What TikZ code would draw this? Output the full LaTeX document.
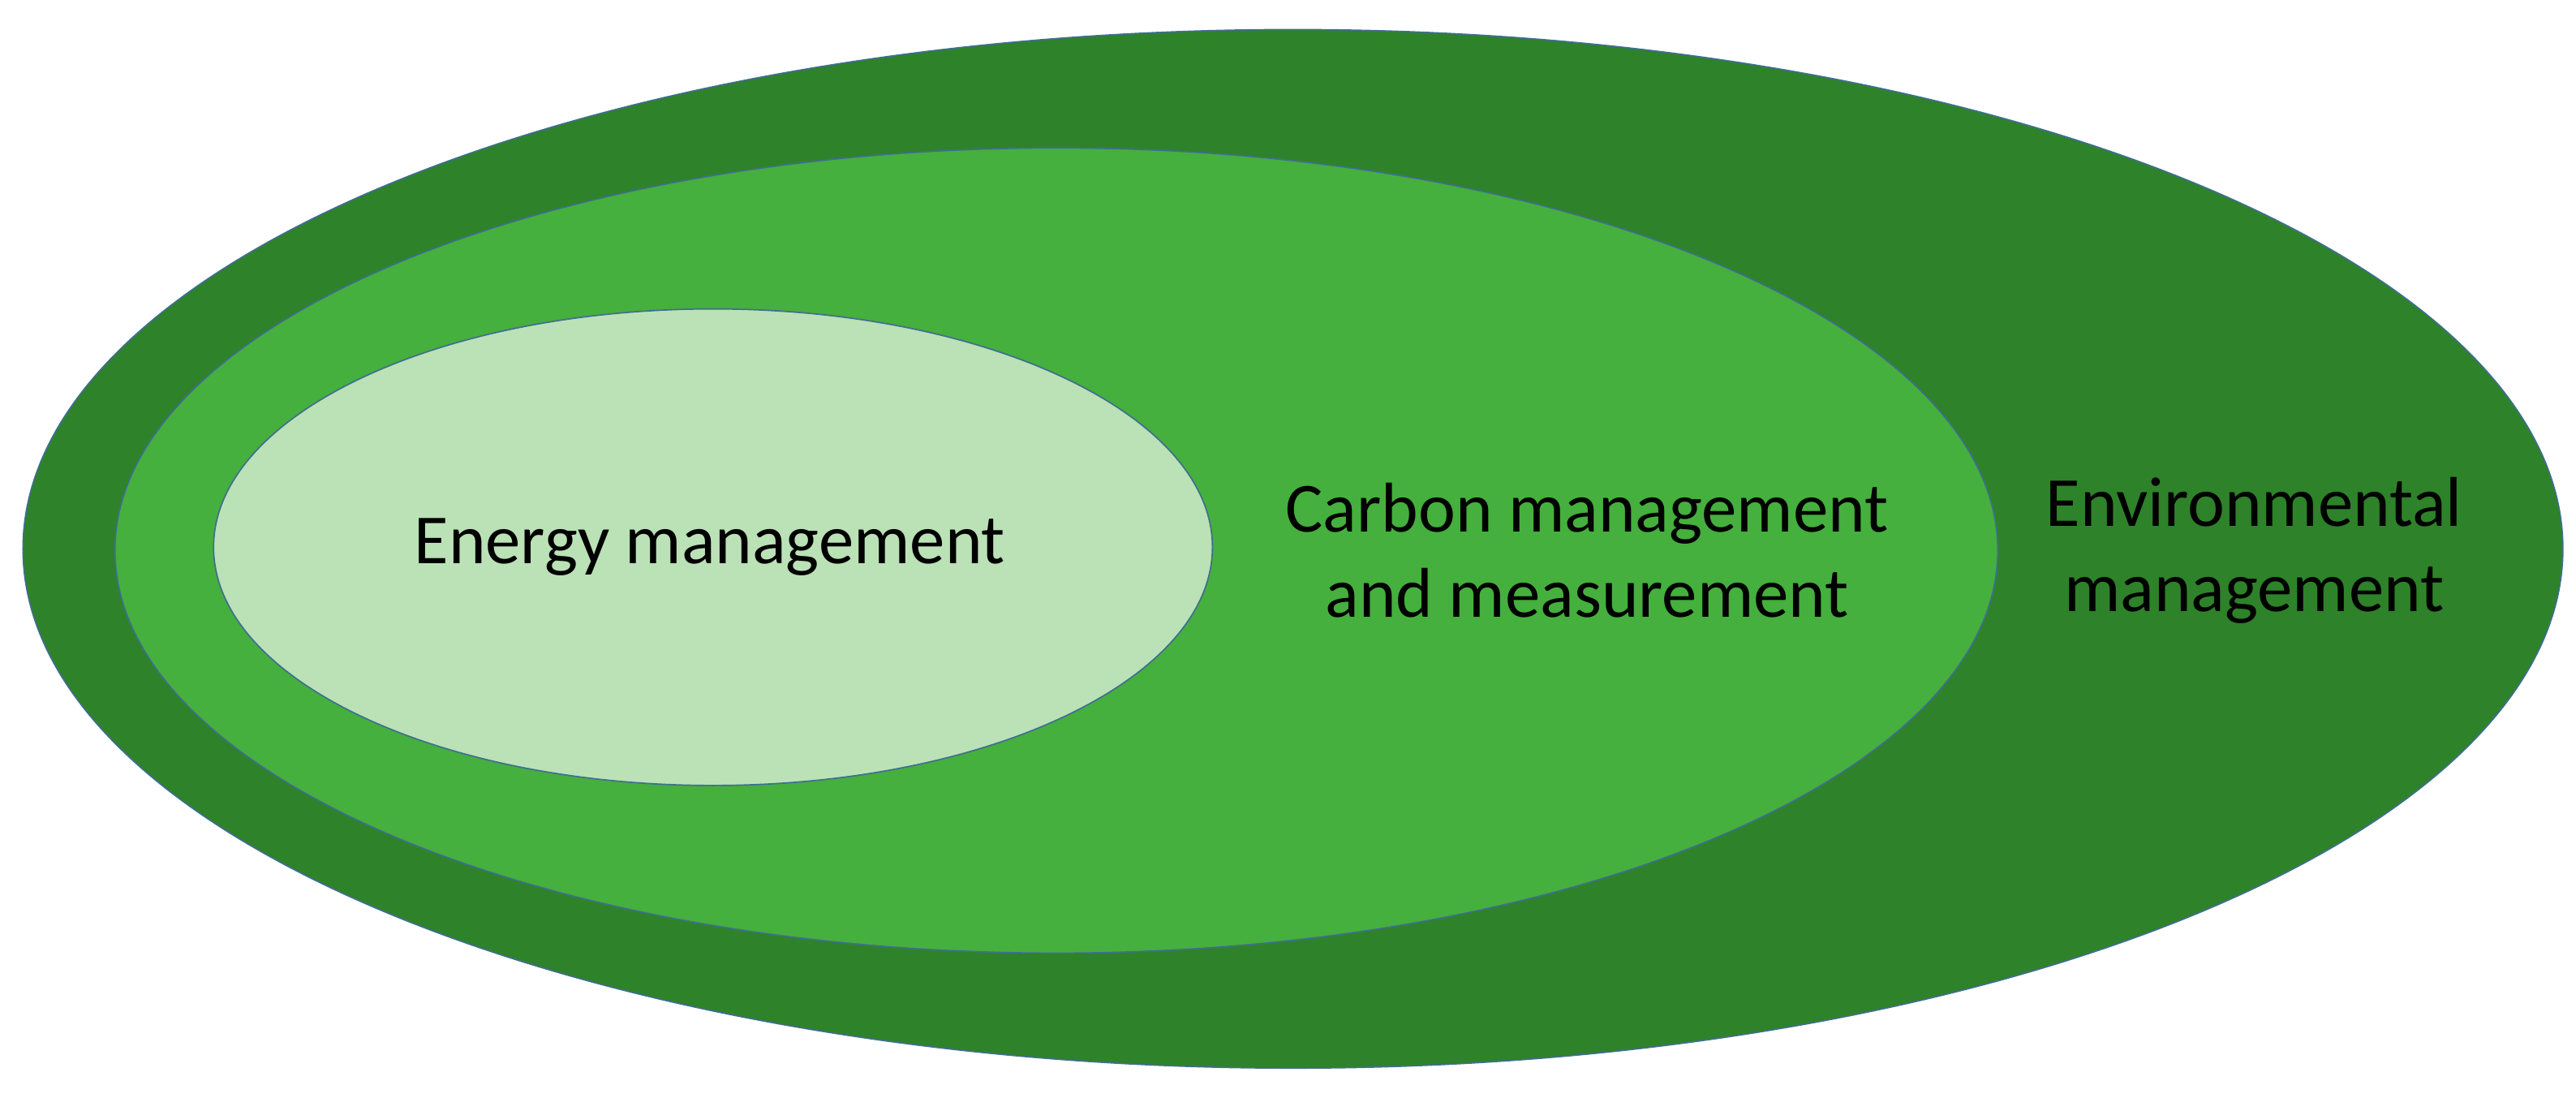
\documentclass[tikz,border=0pt]{standalone}
\usepackage{fontspec}
\setmainfont{Carlito}
\definecolor{outerg}{HTML}{2E8229}
\definecolor{midg}{HTML}{45B03D}
\definecolor{innerg}{HTML}{BBE1B6}
\definecolor{edge}{HTML}{3F6F8F}
\begin{document}
\begin{tikzpicture}[x=0.05cm,y=-0.05cm,
  ell/.style={draw=edge,line width=1.2pt},
  lab/.style={font=\fontsize{61}{74}\selectfont,align=center,text=black}]
\useasboundingbox (0,0) rectangle (1568,668);
\filldraw[ell,fill=outerg] (787,334) ellipse [x radius=773,y radius=316];
\filldraw[ell,fill=midg] (643,335) ellipse [x radius=573,y radius=245];
\filldraw[ell,fill=innerg] (434,333) ellipse [x radius=304,y radius=145];
\node[lab] (e) at (432,333) {Energy management};
\node[lab] (c) at (966,335) {Carbon management\\and measurement};
\node[lab] (v) at (1372,335) {Environmental\\management};
\end{tikzpicture}
\end{document}
